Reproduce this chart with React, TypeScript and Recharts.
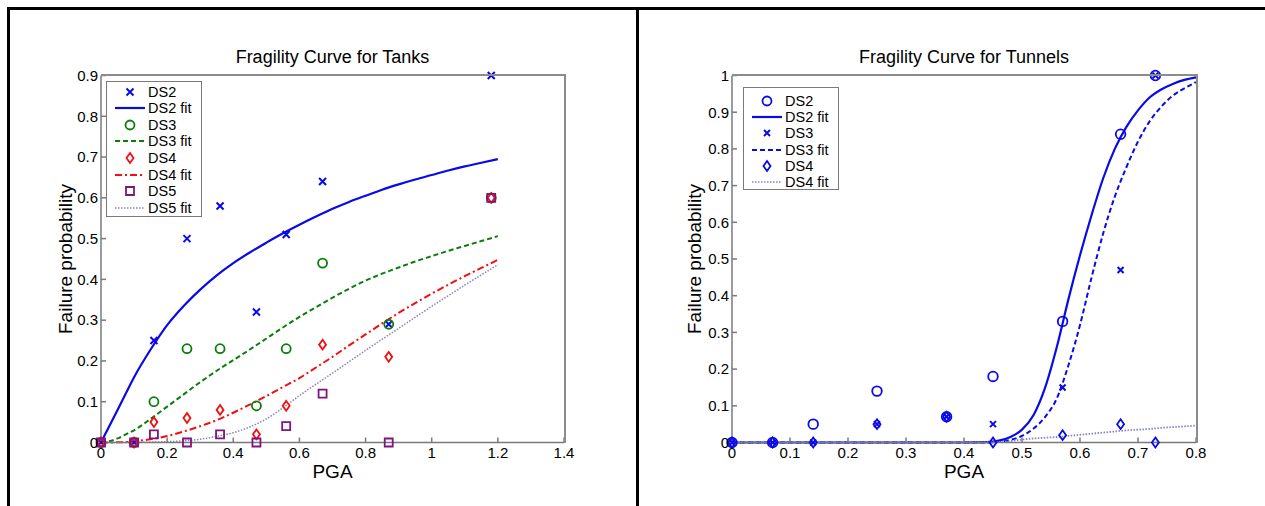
import React from "react";
import { ComposedChart, Line, Scatter, XAxis, YAxis } from "recharts";

const FONT = '"Liberation Sans", Arial, Helvetica, sans-serif';

const BLUE = "#0a0ae6";
const GREEN = "#0a7d0a";
const RED = "#f01010";
const PURPLE = "#7d157d";
const LILAC = "#8c80b4";
const PALEBLUE = "#8282d2";
const AXIS = "#7a7a7a";

// ---- Tanks: observed points ----
const tankPga = [0, 0.1, 0.16, 0.26, 0.36, 0.47, 0.56, 0.67, 0.87, 1.18];
const tankDs2 = [0, 0, 0.25, 0.5, 0.58, 0.32, 0.51, 0.64, 0.29, 0.9];
const tankDs3 = [0, 0, 0.1, 0.23, 0.23, 0.09, 0.23, 0.44, 0.29, 0.6];
const tankDs4 = [0, 0, 0.05, 0.06, 0.08, 0.02, 0.09, 0.24, 0.21, 0.6];
const tankDs5 = [0, 0, 0.02, 0, 0.02, 0, 0.04, 0.12, 0, 0.6];

// ---- Tanks: fitted curves ----
const tankFitPga = [0, 0.025, 0.05, 0.075, 0.1, 0.15, 0.2, 0.25, 0.3, 0.35, 0.4, 0.45, 0.5, 0.55, 0.6, 0.65, 0.7, 0.75, 0.8, 0.85, 0.9, 0.95, 1.0, 1.05, 1.1, 1.15, 1.2];
const tankDs2Fit = [0, 0.04, 0.08, 0.12, 0.16, 0.228, 0.288, 0.335, 0.375, 0.41, 0.44, 0.466, 0.49, 0.513, 0.534, 0.554, 0.573, 0.59, 0.605, 0.62, 0.633, 0.645, 0.656, 0.667, 0.677, 0.686, 0.695];
const tankDs3Fit = [0, 0.003, 0.01, 0.02, 0.03, 0.058, 0.088, 0.118, 0.148, 0.176, 0.202, 0.228, 0.255, 0.282, 0.308, 0.332, 0.355, 0.377, 0.397, 0.414, 0.429, 0.444, 0.457, 0.47, 0.482, 0.494, 0.506];
const tankDs4Fit = [0, 0, 0.0005, 0.001, 0.003, 0.008, 0.016, 0.027, 0.04, 0.055, 0.073, 0.093, 0.114, 0.136, 0.158, 0.184, 0.21, 0.238, 0.265, 0.292, 0.318, 0.342, 0.365, 0.387, 0.408, 0.428, 0.448];
const tankDs5Fit = [0, 0, 0, 0, 0, 0.001, 0.002, 0.004, 0.008, 0.015, 0.024, 0.038, 0.058, 0.085, 0.115, 0.143, 0.17, 0.198, 0.226, 0.253, 0.28, 0.307, 0.334, 0.36, 0.386, 0.411, 0.436];

const tankXTicks = [0, 0.2, 0.4, 0.6, 0.8, 1, 1.2, 1.4];
const tankYTicks = [0, 0.1, 0.2, 0.3, 0.4, 0.5, 0.6, 0.7, 0.8, 0.9];

// ---- Tunnels: observed points ----
const tunPga = [0, 0.07, 0.14, 0.25, 0.37, 0.45, 0.57, 0.67, 0.73];
const tunDs2 = [0, 0, 0.05, 0.14, 0.07, 0.18, 0.33, 0.84, 1.0];
const tunDs3 = [0, 0, 0, 0.05, 0.07, 0.05, 0.15, 0.47, 1.0];
const tunDs4 = [0, 0, 0, 0.05, 0.07, 0, 0.02, 0.05, 0];

// ---- Tunnels: fitted curves ----
const tunFitPga = [0, 0.1, 0.2, 0.3, 0.4, 0.44, 0.46, 0.48, 0.5, 0.52, 0.54, 0.56, 0.58, 0.6, 0.62, 0.64, 0.66, 0.68, 0.7, 0.72, 0.74, 0.76, 0.78, 0.8];
const tunDs2Fit = [0, 0, 0, 0, 0, 0.001, 0.005, 0.015, 0.035, 0.075, 0.15, 0.26, 0.39, 0.51, 0.62, 0.72, 0.8, 0.86, 0.905, 0.94, 0.962, 0.977, 0.988, 0.995];
const tunDs3Fit = [0, 0, 0, 0, 0, 0, 0.002, 0.007, 0.018, 0.038, 0.07, 0.12, 0.21, 0.32, 0.45, 0.57, 0.67, 0.75, 0.82, 0.875, 0.915, 0.945, 0.965, 0.982];
const tunDs4Fit = [0, 0, 0, 0, 0, 0, 0.001, 0.004, 0.008, 0.011, 0.013, 0.015, 0.018, 0.021, 0.024, 0.027, 0.03, 0.033, 0.035, 0.037, 0.04, 0.042, 0.044, 0.046];

const tunXTicks = [0, 0.1, 0.2, 0.3, 0.4, 0.5, 0.6, 0.7, 0.8];
const tunYTicks = [0, 0.1, 0.2, 0.3, 0.4, 0.5, 0.6, 0.7, 0.8, 0.9, 1];

const pts = (xs: number[], ys: number[]) => xs.map((x, i) => ({ x, y: ys[i] }));

// ---- marker glyphs ----
const markPath = (kind: string, cx: number, cy: number, s: number) => {
    switch (kind) {
        case "x":
            return `M${cx - s},${cy - s}L${cx + s},${cy + s}M${cx - s},${cy + s}L${cx + s},${cy - s}`;
        case "diamond":
            return `M${cx},${cy - s * 1.4}L${cx + s},${cy}L${cx},${cy + s * 1.4}L${cx - s},${cy}Z`;
        case "square":
            return `M${cx - s},${cy - s}L${cx + s},${cy - s}L${cx + s},${cy + s}L${cx - s},${cy + s}Z`;
        default:
            return "";
    }
};

const Glyph = ({ kind, cx, cy, color, s }: any) => {
    if (kind === "circle") {
        return <circle cx={cx} cy={cy} r={s} fill="none" stroke={color} strokeWidth={1.8} />;
    }
    return <path d={markPath(kind, cx, cy, s)} fill="none" stroke={color} strokeWidth={kind === "x" ? 2 : 1.8} />;
};

const shapeOf = (kind: string, color: string, s: number) => (props: any) =>
    <Glyph kind={kind} cx={props.cx} cy={props.cy} color={color} s={s} />;

// ---- legend ----
type LegendItem = { label: string; color: string; kind?: string; size?: number; dash?: string; width?: number };

const Legend = ({ items, left, top, width, height, rowH, firstY }: any) => (
    <div style={{ position: "absolute", left, top, width, height, border: `1px solid ${AXIS}`, background: "#fff", boxSizing: "border-box" }}>
        {items.map((it: LegendItem, i: number) => (
            <div key={it.label} style={{ position: "absolute", left: 0, top: firstY + i * rowH - 9, height: 18, width: "100%" }}>
                <svg width={36} height={18} style={{ position: "absolute", left: 6, top: 0 }}>
                    {it.kind ? (
                        <Glyph kind={it.kind} cx={17} cy={9} color={it.color} s={it.size} />
                    ) : (
                        <line x1={2} x2={32} y1={9} y2={9} stroke={it.color} strokeWidth={it.width ?? 2} strokeDasharray={it.dash} />
                    )}
                </svg>
                <span style={{ position: "absolute", left: 41, top: 0, lineHeight: "18px", fontSize: 14.5, fontFamily: FONT, color: "#000" }}>{it.label}</span>
            </div>
        ))}
    </div>
);

const tankLegend: LegendItem[] = [
    { label: "DS2", color: BLUE, kind: "x", size: 3.5 },
    { label: "DS2 fit", color: BLUE, width: 2.2 },
    { label: "DS3", color: GREEN, kind: "circle", size: 4.5 },
    { label: "DS3 fit", color: GREEN, dash: "5 3" },
    { label: "DS4", color: RED, kind: "diamond", size: 3.5 },
    { label: "DS4 fit", color: RED, dash: "7 3 2 3" },
    { label: "DS5", color: PURPLE, kind: "square", size: 4 },
    { label: "DS5 fit", color: LILAC, dash: "1.5 1.5", width: 1.5 },
];

const tunLegend: LegendItem[] = [
    { label: "DS2", color: BLUE, kind: "circle", size: 4.5 },
    { label: "DS2 fit", color: BLUE, width: 2.2 },
    { label: "DS3", color: BLUE, kind: "x", size: 3 },
    { label: "DS3 fit", color: BLUE, dash: "5 3" },
    { label: "DS4", color: BLUE, kind: "diamond", size: 3.5 },
    { label: "DS4 fit", color: PALEBLUE, dash: "1.5 1.5", width: 1.5 },
];

const tickStyle = { fontSize: 15, fontFamily: FONT, fill: "#000" };

const Axes = ({ xDomain, xTicks, yDomain, yTicks }: any) => [
    <XAxis key="xb" xAxisId="b" type="number" dataKey="x" domain={xDomain} ticks={xTicks} height={63.5}
        stroke={AXIS} strokeWidth={1.5} tickSize={-5} tickMargin={10} tick={tickStyle} interval={0} />,
    <YAxis key="yl" yAxisId="l" type="number" dataKey="y" domain={yDomain} ticks={yTicks} width={40}
        stroke={AXIS} strokeWidth={1.5} tickSize={-5} tickMargin={8} tick={tickStyle} interval={0} />,
];

const fitLine = (key: string, data: any[], color: string, width: number, dash?: string) => (
    <Line key={key} xAxisId="b" yAxisId="l" data={data} dataKey="y" type="monotone" stroke={color} strokeWidth={width}
        strokeDasharray={dash} dot={false} activeDot={false} isAnimationActive={false} />
);

const marks = (key: string, data: any[], kind: string, color: string, s: number) => (
    <Scatter key={key} xAxisId="b" yAxisId="l" data={data} dataKey="y" shape={shapeOf(kind, color, s)} isAnimationActive={false} />
);

const textBase: React.CSSProperties = { position: "absolute", fontFamily: FONT, color: "#000", whiteSpace: "nowrap" };

const Title = ({ x, children }: any) => (
    <div style={{ ...textBase, left: x, top: 57, transform: "translate(-50%, -50%)", fontSize: 18 }}>{children}</div>
);
const XLabel = ({ x, children }: any) => (
    <div style={{ ...textBase, left: x, top: 472, transform: "translate(-50%, -50%)", fontSize: 19 }}>{children}</div>
);
const YLabel = ({ x, children }: any) => (
    <div style={{ ...textBase, left: x, top: 259, transform: "translate(-50%, -50%) rotate(-90deg)", fontSize: 19 }}>{children}</div>
);
// top and right edges of the axes box
const Frame = ({ left, width }: any) => (
    <div style={{ position: "absolute", left, top: 74, width, height: 369, boxSizing: "border-box", pointerEvents: "none",
        borderTop: "2px solid #8c8c8c", borderRight: "2px solid #8c8c8c" }} />
);

export default function App() {
    return (
        <div style={{ position: "fixed", left: 0, top: 0, width: 1265, height: 506, background: "#fff", overflow: "hidden" }}>
            {/* table frame */}
            <div style={{ position: "absolute", left: 7, top: 7, width: 1300, height: 600, borderTop: "3px solid #000", borderLeft: "3px solid #000" }} />
            <div style={{ position: "absolute", left: 636, top: 7, width: 3, height: 600, background: "#000" }} />

            {/* Tanks */}
            <div style={{ position: "absolute", left: 0, top: 0 }}>
                <ComposedChart width={637} height={506} margin={{ top: 75.5, right: 73, bottom: 0, left: 61 }}>
                    {Axes({ xDomain: [0, 1.4], xTicks: tankXTicks, yDomain: [0, 0.9], yTicks: tankYTicks })}
                    {marks("m2", pts(tankPga, tankDs2), "x", BLUE, 3.5)}
                    {fitLine("f2", pts(tankFitPga, tankDs2Fit), BLUE, 2.2)}
                    {marks("m3", pts(tankPga, tankDs3), "circle", GREEN, 4.5)}
                    {fitLine("f3", pts(tankFitPga, tankDs3Fit), GREEN, 2, "5 3")}
                    {marks("m4", pts(tankPga, tankDs4), "diamond", RED, 3.5)}
                    {fitLine("f4", pts(tankFitPga, tankDs4Fit), RED, 2, "7 3 2 3")}
                    {marks("m5", pts(tankPga, tankDs5), "square", PURPLE, 4)}
                    {fitLine("f5", pts(tankFitPga, tankDs5Fit), LILAC, 1.5, "1.5 1.5")}
                </ComposedChart>
            </div>
            <Frame left={101} width={465} />
            <Title x={332.5}>Fragility Curve for Tanks</Title>
            <XLabel x={332.5}>PGA</XLabel>
            <YLabel x={66}>Failure probability</YLabel>
            <Legend items={tankLegend} left={106} top={81} width={96} height={136} rowH={16.6} firstY={9.5} />

            {/* Tunnels */}
            <div style={{ position: "absolute", left: 637, top: 0 }}>
                <ComposedChart width={628} height={506} margin={{ top: 75.5, right: 69, bottom: 0, left: 55 }}>
                    {Axes({ xDomain: [0, 0.8], xTicks: tunXTicks, yDomain: [0, 1], yTicks: tunYTicks })}
                    {marks("m2", pts(tunPga, tunDs2), "circle", BLUE, 4.8)}
                    {fitLine("f2", pts(tunFitPga, tunDs2Fit), BLUE, 2.2)}
                    {marks("m3", pts(tunPga, tunDs3), "x", BLUE, 3)}
                    {fitLine("f3", pts(tunFitPga, tunDs3Fit), BLUE, 2, "5 3")}
                    {marks("m4", pts(tunPga, tunDs4), "diamond", BLUE, 3.5)}
                    {fitLine("f4", pts(tunFitPga, tunDs4Fit), PALEBLUE, 1.8, "1.5 1.5")}
                </ComposedChart>
            </div>
            <Frame left={732} width={466} />
            <Title x={964}>Fragility Curve for Tunnels</Title>
            <XLabel x={964}>PGA</XLabel>
            <YLabel x={695}>Failure probability</YLabel>
            <Legend items={tunLegend} left={743} top={87} width={96} height={103} rowH={16.2} firstY={13} />
        </div>
    );
}
